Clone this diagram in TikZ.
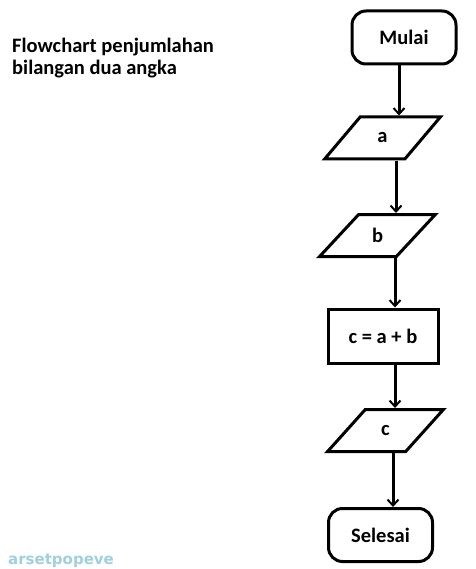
\documentclass[tikz,border=0pt]{standalone}
\usepackage{fontspec}
\setmainfont{Carlito}
\newfontfamily\wmfont{DejaVu Sans}
\usetikzlibrary{shapes.geometric,arrows.meta}
\definecolor{wm}{RGB}{160,208,222}
\begin{document}
\begin{tikzpicture}[x=1pt,y=-1pt,
  base/.style={draw=black,line width=3pt,font=\bfseries\fontsize{20.5}{24}\selectfont,inner sep=0pt},
  term/.style={base,rounded corners=14pt,minimum width=104pt,minimum height=53pt},
  proc/.style={base,minimum width=110pt,minimum height=54pt},
  io/.style={base,trapezium,trapezium stretches=true,trapezium left angle=52,trapezium right angle=128,minimum width=116pt,minimum height=42pt},
  lbl/.style={anchor=base west,font=\bfseries\fontsize{20.5}{24}\selectfont,inner sep=0pt},
  arr/.style={line width=3pt,-{Straight Barb[length=6pt,width=11pt,line width=2pt]}}]
\useasboundingbox (0,0) rectangle (475,569);
\fill[white] (0,0) rectangle (475,569);
\node[lbl] (title) at (12,53) {Flowchart penjumlahan};
\node[lbl] (title2) at (12,75) {bilangan dua angka};
\node[anchor=base west,inner sep=0pt,font=\wmfont\bfseries\fontsize{15}{18}\selectfont,text=wm] (wmk) at (8,564.5) {arsetpopeve};
\node[term] (m) at (404,37.5) {Mulai};
\node[io] (a) at (382.5,138) {a};
\node[io] (b) at (377.5,235.5) {b};
\node[proc] (c) at (383,336) {c = a + b};
\node[io] (o) at (385.5,430.5) {c};
\node[term] (s) at (380.5,535) {Selesai};
\coordinate (x1) at (399,0);
\coordinate (x2) at (396,0);
\coordinate (x3) at (395,0);
\coordinate (x4) at (395,0);
\coordinate (x5) at (393,0);
\draw[arr] (m.south -| x1) -- (a.north -| x1);
\draw[arr] (a.south -| x2) -- (b.north -| x2);
\draw[arr] (b.south -| x3) -- (c.north -| x3);
\draw[arr] (c.south -| x4) -- (o.north -| x4);
\draw[arr] (o.south -| x5) -- (s.north -| x5);
\end{tikzpicture}
\end{document}
